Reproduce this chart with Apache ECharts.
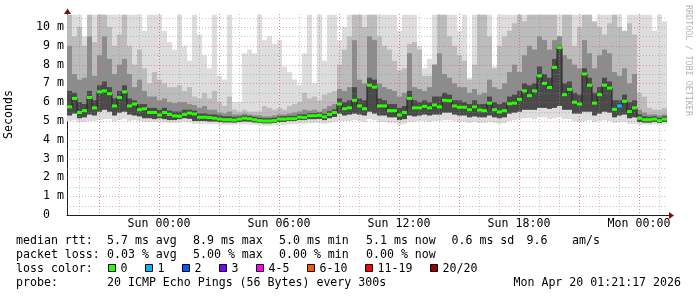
<!DOCTYPE html>
<html><head><meta charset="utf-8">
<script src="https://cdn.jsdelivr.net/npm/echarts@6/dist/echarts.min.js"></script>
<style>html,body{margin:0;padding:0;background:#fff}#c{width:697px;height:297px}</style>
</head><body><div id="c"></div>
<script>
// ---- time base: hours relative to Sun 00:00, 15-minute buckets ----
const firstBucketHour = -4.6;
const bucketHours = 0.25;

// median RTT per bucket (ms)
const median = [
 5.75,6.2,5.45,5.55,6.25,5.7,6.55,6.6,6.45,5.8,
 6.25,6.55,5.8,5.9,5.6,5.65,5.45,5.45,5.32,5.45,
 5.35,5.27,5.25,5.35,5.42,5.37,5.2,5.2,5.18,5.15,
 5.1,5.07,5.07,5.05,5.1,5.15,5.12,5.07,5.02,5.0,
 5.0,5.02,5.1,5.1,5.12,5.12,5.2,5.18,5.28,5.28,
 5.3,5.22,5.35,5.45,5.9,5.65,5.7,6.1,5.8,5.65,
 6.9,6.8,5.8,5.8,5.55,5.55,5.32,5.45,6.2,5.7,
 5.7,5.78,5.7,5.85,5.75,6.1,6.08,5.8,5.73,5.73,
 5.6,5.75,5.58,5.55,5.95,5.6,5.48,5.55,5.92,5.95,
 6.15,6.6,6.35,6.6,7.4,7.0,6.78,7.85,8.9,6.4,
 6.68,6.0,5.9,7.5,6.9,5.95,6.4,6.9,6.75,5.62,
 5.8,6.05,5.5,5.7,5.15,5.07,5.07,5.1,5.02,5.1];

// lost pings (of 20) per bucket
const lostPings = [
 0,0,0,0,0,0,0,0,0,0, 0,0,0,0,0,0,0,0,0,0, 0,0,0,0,0,0,0,0,0,0,
 0,0,0,0,0,0,0,0,0,0, 0,0,0,0,0,0,0,0,0,0, 0,0,0,0,0,0,0,0,0,0,
 0,0,0,0,0,0,0,0,0,0, 0,0,0,0,0,0,0,0,0,0, 0,0,0,0,0,0,0,0,0,0,
 0,0,0,0,0,0,0,0,0,0, 0,0,0,0,0,0,0,0,0,0, 1,0,0,0,0,0,0,0,0,0];

// smoke: lowest ping
const smokeMin = [
 5.0,5.05,4.95,4.95,5.0,5.0,5.05,5.1,5.1,5.0,5.05,5.1,5.0,
 5.05,5.0,4.95,4.95,4.95,4.95,4.92,4.9,4.9,4.92,4.95,4.92,4.85,4.85,4.85,4.83,4.83,
 4.8,4.8,4.8,4.8,4.82,4.83,4.82,4.8,4.78,4.75,4.75,4.77,4.8,4.8,4.82,4.83,4.85,4.85,4.88,4.9,4.9,4.85,4.9,4.95,
 5.0,5.0,5.0,5.05,5.0,4.95,5.1,5.05,4.95,4.95,4.9,4.9,4.8,4.85,4.95,4.95,5.0,5.0,
 4.95,5.0,5.0,5.05,5.05,5.0,4.95,4.95,4.9,4.95,4.9,4.9,4.95,4.9,4.85,4.9,5.0,5.05,
 5.1,5.15,5.15,5.1,5.2,5.2,5.1,5.15,5.2,5.1,5.1,5.0,4.95,5.0,5.05,4.95,5.0,5.05,
 5.0,4.9,4.95,4.95,4.85,4.85,
 4.8,4.8,4.8,4.82,4.8,4.82];
// smoke: lower edge of the inner pings
const smokeLow = [
 5.3,5.4,5.15,5.2,5.35,5.3,5.5,5.6,5.5,5.3,5.45,5.5,5.35,
 5.3,5.25,5.15,5.15,5.1,5.15,5.1,5.05,5.05,5.1,5.15,5.12,5.0,5.0,5.0,4.98,4.98,
 4.95,4.93,4.93,4.92,4.95,4.98,4.97,4.93,4.9,4.88,4.88,4.9,4.95,4.95,5.0,5.0,5.05,5.05,5.1,5.1,5.12,5.05,5.15,5.22,
 5.4,5.3,5.35,5.4,5.35,5.3,5.5,5.4,5.3,5.3,5.2,5.2,5.05,5.1,5.3,5.25,5.3,5.35,5.3,5.35,
 5.35,5.45,5.45,5.35,5.3,5.3,5.2,5.25,5.2,5.2,5.3,5.2,5.15,5.2,5.4,5.45,5.5,5.6,5.6,5.6,
 5.7,5.7,5.65,5.7,5.8,5.6,5.6,5.4,5.4,5.5,5.5,5.3,5.4,5.5,5.45,5.2,5.3,5.35,5.15,5.2,
 4.95,4.92,4.92,4.95,4.9,4.95];
// smoke: top of darkest core
const smokeCore = [
 6.6,6.5,6.0,5.9,6.6,6.1,6.9,7.1,6.8,6.2,6.6,6.9,6.2,
 6.1,5.9,5.9,5.7,5.7,5.6,5.7,5.55,5.5,5.5,5.6,5.6,5.55,5.4,5.4,5.35,5.35,
 5.3,5.25,5.25,5.22,5.25,5.3,5.27,5.22,5.17,5.15,5.15,5.17,5.25,5.25,5.27,5.27,5.35,5.35,5.42,5.42,5.45,5.38,5.52,5.62,
 6.2,6.0,6.1,6.8,6.2,6.1,7.3,7.2,6.2,6.1,5.9,5.9,5.7,5.8,6.6,6.1,6.0,6.1,6.0,6.3,
 6.3,6.5,6.4,6.1,6.1,6.0,5.9,6.1,5.9,5.9,6.3,6.0,5.9,6.0,6.3,6.4,6.6,7.0,6.9,7.0,
 7.9,7.5,7.3,8.3,9.0,7.0,7.1,6.5,6.4,7.8,7.3,6.5,6.8,7.3,7.1,6.1,6.1,6.4,6.0,6.1,
 5.35,5.25,5.22,5.25,5.17,5.25];
// smoke: top of dark band
const smokeDark = [
 9.0,7.5,7.2,7.3,9.5,7.4,8.5,9.5,8.3,7.5,8.0,8.3,7.5,
 6.8,7.2,6.6,6.3,6.3,6.1,6.2,6.0,5.95,6.0,6.0,5.9,5.85,5.7,5.8,5.6,5.6,
 5.45,5.4,5.5,5.35,5.35,5.4,5.35,5.3,5.3,5.25,5.25,5.3,5.35,5.35,5.4,5.45,5.5,5.6,5.55,5.6,5.5,5.65,5.8,5.9,
 6.7,6.6,6.8,9.3,7.2,7.0,9.5,9.3,7.0,6.8,6.7,6.6,6.3,6.5,8.6,6.8,6.7,6.6,6.8,8.0,
 8.6,7.5,7.3,7.0,6.8,6.8,6.5,6.7,6.4,6.5,7.2,6.8,6.7,7.0,7.6,8.0,7.6,8.5,9.0,8.8,
 9.5,9.3,8.8,9.3,9.5,8.5,8.3,8.0,7.8,9.3,8.6,7.8,8.5,8.8,8.6,7.6,7.4,7.8,7.0,7.5,
 5.6,5.45,5.35,5.35,5.3,5.35];
// smoke: top of mid band
const smokeMid = [
 10.65,9.5,10.0,9.0,10.65,9.2,10.65,10.65,10.0,9.0,9.6,10.65,9.0,
 8.0,8.8,7.8,7.0,7.6,7.2,7.0,6.8,6.8,6.9,6.6,6.8,6.3,6.2,6.5,6.2,6.6,
 6.0,5.8,6.3,5.6,5.5,5.6,5.5,5.5,5.5,5.8,5.7,5.6,5.7,5.6,5.8,5.9,6.0,6.5,6.2,6.3,6.1,6.4,6.5,6.6,
 8.0,8.8,9.5,10.65,10.65,10.0,10.65,10.65,9.5,9.0,8.8,8.2,7.7,7.8,9.1,9.2,8.8,7.4,7.4,8.0,
 10.65,10.65,9.5,9.0,8.5,8.2,7.2,8.0,10.65,10.65,9.5,7.8,9.0,9.5,9.8,10.2,10.65,10.3,10.65,10.65,
 10.65,10.65,10.65,10.65,9.5,10.65,10.65,9.0,10.0,10.65,10.65,10.3,10.0,9.6,10.2,10.65,10.0,9.8,10.2,9.6,
 6.5,6.3,5.7,5.6,5.6,5.7];
// smoke: highest ping
const smokeMax = [
 10.65,10.65,10.65,9.5,10.65,10.65,10.65,10.65,10.65,10.65,10.65,10.65,10.65,
 10.65,10.65,9.8,10.65,10.65,10.65,9.8,9.2,8.8,10.65,9.0,8.2,10.65,9.6,8.5,7.8,10.65,
 7.4,7.2,10.65,6.0,6.0,8.6,8.8,8.6,10.65,9.3,9.5,9.1,9.3,7.9,7.6,7.2,6.9,8.6,10.65,7.0,10.65,8.2,10.65,10.65,
 9.3,10.0,10.65,10.65,10.65,10.65,10.65,10.65,10.65,10.65,10.65,10.65,9.8,10.65,10.65,10.65,9.0,7.8,8.3,10.65,
 10.65,10.65,10.65,10.65,9.8,10.65,7.3,10.65,10.65,10.65,10.65,7.9,10.65,10.65,10.65,10.65,10.65,10.65,10.65,10.65,
 10.65,10.65,10.65,10.65,10.65,10.65,10.65,10.65,10.65,10.65,10.65,9.1,10.65,10.65,10.65,10.65,10.65,9.7,10.65,10.65,
 10.65,10.65,10.65,9.8,10.65,10.3,7.6,6.9,6.8,7.0];

// axes ticks / labels
const xTickHours = [0, 6, 12, 18, 24];
const xTickLabels = ['Sun 00:00', 'Sun 06:00', 'Sun 12:00', 'Sun 18:00', 'Mon 00:00'];
const xMinorHours = [-4,-3,-2,-1,0,1,2,3,4,5,6,7,8,9,10,11,12,13,14,15,16,17,18,19,20,21,22,23,24,25];
const xMajorHours = [-3,0,3,6,9,12,15,18,21,24];
const yMinorTicks = [0.5,1.5,2.5,3.5,4.5,5.5,6.5,7.5,8.5,9.5,10.5];
const yMajorTicks = [1,2,3,4,5,6,7,8,9,10];

// legend texts
const lossLabels = ['0', '1', '2', '3', '4-5', '6-10', '11-19', '20/20'];
const lossColors = ['#26ff00', '#00b8ff', '#0059ff', '#7e00ff', '#ff00ff', '#ff5500', '#ff0000', '#a10000'];
const lossUpper = [0, 1, 2, 3, 5, 10, 19, 20];
const statsRtt = ['median rtt:', '5.7 ms avg', '8.9 ms max', '5.0 ms min', '5.1 ms now', '0.6 ms sd', '9.6', 'am/s'];
const statsLoss = ['packet loss:', '0.03 % avg', '5.00 % max', '0.00 % min', '0.00 % now'];
const probeText = ['probe:', '20 ICMP Echo Pings (56 Bytes) every 300s'];
const stampText = 'Mon Apr 20 01:21:17 2026';
const creditText = 'RRDTOOL / TOBI OETIKER';

// ---- build ----
const FONT = "'DejaVu Sans Mono', monospace";
const FS = 11.6;
const chart = echarts.init(document.getElementById('c'), null, {renderer: 'canvas', width: 697, height: 297});

const smokeData = median.map((m, i) => [firstBucketHour + i * bucketHours, smokeMin[i], smokeLow[i], smokeCore[i], smokeDark[i], smokeMid[i], smokeMax[i]]);
const medData = median.map((m, i) => [firstBucketHour + (i + 0.5) * bucketHours, m, lostPings[i]]);
const bands = [[1, 6, '#dddddd'], [2, 5, '#bcbcbc'], [2, 4, '#8c8c8c'], [2, 3, '#4a4a4a']];

function lossColor(n) {
  for (let k = 0; k < lossUpper.length; k++) if (n <= lossUpper[k]) return lossColors[k];
  return lossColors[lossColors.length - 1];
}

const gridH = [].concat(yMinorTicks.map(v => [0, v, 0]), yMajorTicks.map(v => [0, v, 1]));
const gridV = [].concat(xMinorHours.map(h => [h, 0, 0]), xMajorHours.map(h => [h, 0, 1]));

const option = {
  animation: false,
  backgroundColor: '#ffffff',
  grid: {left: 67, right: 30, top: 14, bottom: 82, containLabel: false, outerBoundsMode: 'none'},
  xAxis: {
    type: 'value', min: -4.6, max: 25.4,
    axisLine: {show: true, onZero: false, lineStyle: {color: '#202020', width: 1}},
    axisTick: {show: false},
    splitLine: {show: false},
    axisLabel: {
      customValues: xTickHours,
      formatter: v => { const k = xTickHours.indexOf(v); return k >= 0 ? xTickLabels[k] : ''; },
      fontFamily: FONT, fontSize: FS, color: '#000', margin: 3
    }
  },
  yAxis: {
    type: 'value', min: 0, max: 10.69, interval: 1,
    axisLine: {show: true, onZero: false, lineStyle: {color: '#202020', width: 1}},
    axisTick: {show: false},
    splitLine: {show: false},
    axisLabel: {
      showMaxLabel: false,
      formatter: v => v === 0 ? '0  ' : v + ' m',
      fontFamily: FONT, fontSize: FS, color: '#000', margin: 3
    },
    name: 'Seconds', nameLocation: 'middle', nameRotate: 90, nameGap: 52,
    nameTextStyle: {fontFamily: FONT, fontSize: FS, color: '#000'}
  },
  series: [
    {
      type: 'custom', name: 'smoke', z: 1, clip: true,
      data: smokeData,
      renderItem: (params, api) => {
        const t = api.value(0);
        const x0 = api.coord([t, 0])[0];
        const x1 = api.coord([t + bucketHours, 0])[0];
        return {
          type: 'group',
          children: bands.map(b => {
            const yt = api.coord([t, api.value(b[1])])[1];
            const yb = api.coord([t, api.value(b[0])])[1];
            return {type: 'rect', shape: {x: x0, y: yt, width: x1 - x0, height: yb - yt}, style: {fill: b[2]}};
          })
        };
      }
    },
    {
      type: 'custom', name: 'hgrid', z: 2, silent: true,
      data: gridH,
      renderItem: (params, api) => {
        const cs = params.coordSys;
        const y = Math.round(api.coord([0, api.value(1)])[1]) + 0.5;
        const major = api.value(2) === 1;
        return {type: 'line', shape: {x1: cs.x, y1: y, x2: cs.x + cs.width, y2: y},
          style: {stroke: major ? 'rgba(224,80,80,0.5)' : 'rgba(144,144,144,0.5)', lineWidth: 1, lineDash: [1, 2]}};
      }
    },
    {
      type: 'custom', name: 'vgrid', z: 2, silent: true,
      data: gridV,
      renderItem: (params, api) => {
        const cs = params.coordSys;
        const x = Math.round(api.coord([api.value(0), 0])[0]) + 0.5;
        const major = api.value(2) === 1;
        return {type: 'line', shape: {x1: x, y1: cs.y, x2: x, y2: cs.y + cs.height},
          style: {stroke: major ? 'rgba(224,80,80,0.5)' : 'rgba(144,144,144,0.5)', lineWidth: 1, lineDash: [1, 2]}};
      }
    },
    {
      type: 'line', name: 'median line', z: 3, step: 'middle', symbol: 'none',
      data: medData.map(d => [d[0], d[1]]),
      lineStyle: {color: '#202020', width: 1}
    },
    {
      type: 'custom', name: 'median', z: 4,
      data: medData,
      renderItem: (params, api) => {
        const tc = api.value(0);
        const x0 = api.coord([tc - bucketHours / 2, 0])[0];
        const x1 = api.coord([tc + bucketHours / 2, 0])[0];
        const y = api.coord([tc, api.value(1)])[1];
        return {type: 'rect', shape: {x: x0, y: y - 1.5, width: x1 - x0, height: 3},
          style: {fill: lossColor(api.value(2))}};
      }
    }
  ],
  graphic: []
};

// graphic: axis arrows and legend texts
const g = [];
g.push({type: 'line', shape: {x1: 667, y1: 215.5, x2: 670, y2: 215.5}, style: {stroke: '#202020', lineWidth: 1}});
g.push({type: 'polygon', shape: {points: [[669, 212], [674, 215.5], [669, 219]]}, style: {fill: '#801010'}});
g.push({type: 'line', shape: {x1: 67.5, y1: 14, x2: 67.5, y2: 11}, style: {stroke: '#202020', lineWidth: 1}});
g.push({type: 'polygon', shape: {points: [[64, 14], [67.5, 8.5], [71, 14]]}, style: {fill: '#801010'}});
g.push({type: 'text', x: 688, y: 5, rotation: -Math.PI / 2,
  style: {text: creditText, fontFamily: FONT, fontSize: 8.4, fill: '#b4b4b4', align: 'left', verticalAlign: 'middle'}});

const rowY = [241, 255, 268.5, 282.5];
const rttX = [16, 107, 193, 279, 366, 451.5, 526.5, 572];
statsRtt.forEach((s, k) => g.push({type: 'text', x: rttX[k], y: rowY[0], style: {text: s, fontFamily: FONT, fontSize: FS, fill: '#000', verticalAlign: 'middle'}}));
statsLoss.forEach((s, k) => g.push({type: 'text', x: rttX[k], y: rowY[1], style: {text: s, fontFamily: FONT, fontSize: FS, fill: '#000', verticalAlign: 'middle'}}));
g.push({type: 'text', x: 16, y: rowY[2], style: {text: 'loss color:', fontFamily: FONT, fontSize: FS, fill: '#000', verticalAlign: 'middle'}});
let bx = 108;
lossLabels.forEach((lab, k) => {
  g.push({type: 'rect', shape: {x: bx + 0.5, y: 264.5, width: 7, height: 7}, style: {fill: lossColors[k], stroke: '#000', lineWidth: 1}});
  g.push({type: 'text', x: bx + 12.5, y: rowY[2], style: {text: lab, fontFamily: FONT, fontSize: FS, fill: '#000', verticalAlign: 'middle'}});
  bx += 37 + 7 * (lab.length - 1);
});
g.push({type: 'text', x: 16, y: rowY[3], style: {text: probeText[0], fontFamily: FONT, fontSize: FS, fill: '#000', verticalAlign: 'middle'}});
g.push({type: 'text', x: 107, y: rowY[3], style: {text: probeText[1], fontFamily: FONT, fontSize: FS, fill: '#000', verticalAlign: 'middle'}});
g.push({type: 'text', x: 681, y: rowY[3], style: {text: stampText, fontFamily: FONT, fontSize: FS, fill: '#000', align: 'right', verticalAlign: 'middle'}});
option.graphic = g;

chart.setOption(option);
</script>
</body></html>
